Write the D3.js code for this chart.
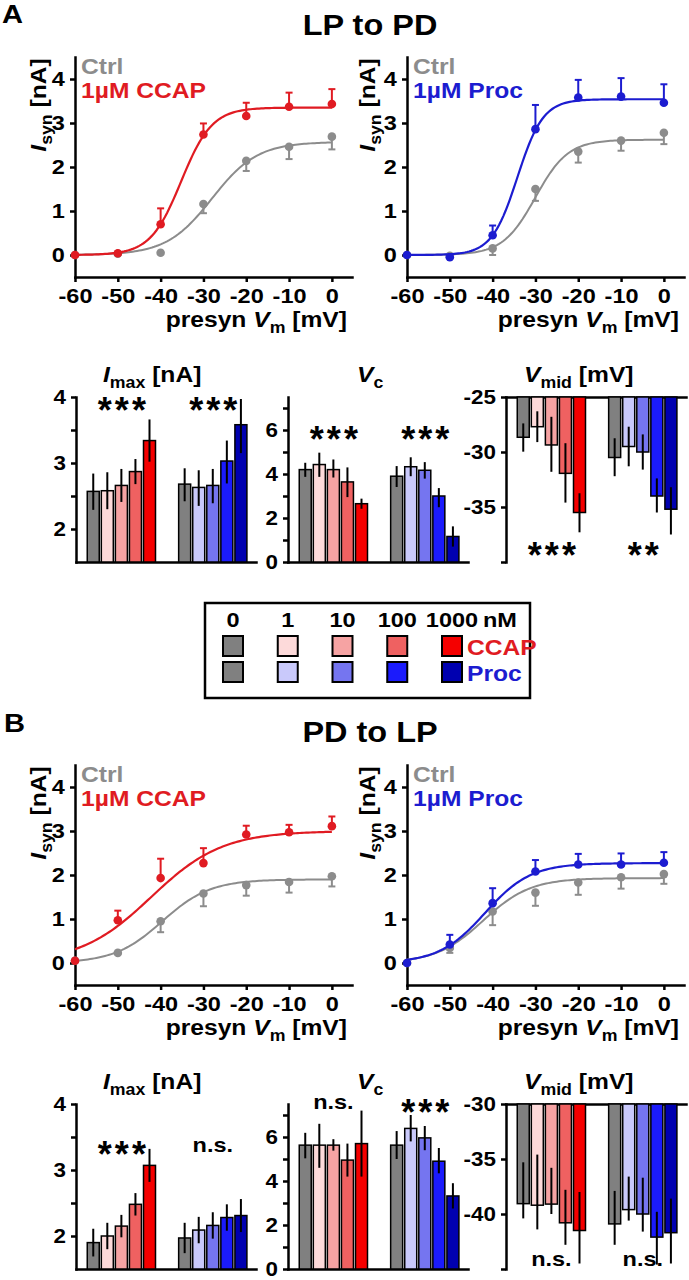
<!DOCTYPE html>
<html>
<head>
<meta charset="utf-8">
<script src="https://cdn.jsdelivr.net/npm/d3@7"></script>
<style>
  body { margin: 0; background: #fff; }
  svg { display: block; }
  text { font-family: "Liberation Sans", Arial, sans-serif; font-weight: bold; }
</style>
</head>
<body>
<svg id="fig" width="689" height="1280"></svg>
<script>
// ---- data ----
const vm = [-60, -50, -40, -30, -20, -10, 0];

// A: LP to PD, Isyn (nA) means and SEM
const lpCtrlC = [0, 0.03, 0.05, 1.16, 2.14, 2.46, 2.69];
const lpCtrlCErr = [0, 0, 0, 0.21, 0.23, 0.28, 0.29];
const lpCcap = [0, 0.04, 0.70, 2.74, 3.16, 3.37, 3.43];
const lpCcapErr = [0, 0, 0.36, 0.25, 0.30, 0.32, 0.34];
const lpCtrlP = [0, -0.02, 0.15, 1.50, 2.35, 2.60, 2.78];
const lpCtrlPErr = [0, 0, 0.15, 0.27, 0.25, 0.23, 0.26];
const lpProc = [0, -0.05, 0.45, 2.86, 3.58, 3.60, 3.46];
const lpProcErr = [0, 0, 0.22, 0.55, 0.40, 0.42, 0.42];

// B: PD to LP
const pdCtrlC = [0.05, 0.23, 0.95, 1.58, 1.77, 1.84, 1.97];
const pdCtrlCErr = [0, 0, 0.25, 0.29, 0.24, 0.24, 0.23];
const pdCcap = [0.05, 0.97, 1.93, 2.27, 2.92, 2.97, 3.11];
const pdCcapErr = [0, 0.22, 0.44, 0.34, 0.20, 0.17, 0.22];
const pdCtrlP = [0, 0.34, 1.17, 1.60, 1.83, 1.95, 2.02];
const pdCtrlPErr = [0, 0.11, 0.31, 0.30, 0.28, 0.26, 0.22];
const pdProc = [0, 0.42, 1.36, 2.08, 2.24, 2.24, 2.28];
const pdProcErr = [0, 0.22, 0.34, 0.26, 0.24, 0.25, 0.24];

// Boltzmann fits: [Imax, Vmid, Vc]
const lpFitCtrlC = [2.57, -28.0, 5.3];
const lpFitCcap = [3.35, -35.2, 3.6];
const lpFitCtrlP = [2.62, -30.0, 3.8];
const lpFitProc = [3.54, -34.2, 3.0];
const pdFitCtrlC = [1.90, -39.6, 5.6];
const pdFitCcap = [3.00, -42.2, 8.3];
const pdFitCtrlP = [1.93, -42.2, 5.5];
const pdFitProc = [2.27, -41.8, 5.35];

// concentration series (0, 1, 10, 100, 1000 nM); each bar [mean, errLow, errHigh]
const conc = ['0', '1', '10', '100', '1000'];
const ccapColors = ['#808080', '#fddada', '#f6a3a3', '#ef6161', '#f50000'];
const procColors = ['#808080', '#c9c9fb', '#7575f0', '#1b1bfc', '#0000b0'];

const lpImaxCcap = [[2.57, 2.29, 2.84], [2.58, 2.30, 2.86], [2.66, 2.41, 2.91], [2.87, 2.68, 3.06], [3.34, 3.02, 3.66]];
const lpImaxProc = [[2.68, 2.42, 2.92], [2.63, 2.35, 2.89], [2.66, 2.39, 2.91], [3.03, 2.69, 3.34], [3.58, 3.15, 3.97]];
const lpVcCcap = [[4.20, 3.87, 4.51], [4.43, 3.87, 4.97], [4.20, 3.84, 4.66], [3.64, 2.95, 4.30], [2.65, 2.42, 2.88]];
const lpVcProc = [[3.90, 3.41, 4.36], [4.33, 3.90, 4.76], [4.17, 3.79, 4.54], [3.00, 2.49, 3.36], [1.16, 0.70, 1.62]];
const lpVmidCcap = [[-28.66, -29.97, -27.4], [-27.7, -29.1, -26.3], [-29.36, -31.8, -26.8], [-31.94, -34.6, -29.2], [-35.5, -37.3, -33.75]];
const lpVmidProc = [[-30.5, -32.2, -28.75], [-29.5, -31.3, -27.7], [-30.0, -31.6, -28.4], [-34.0, -35.5, -32.4], [-35.2, -37.5, -33.2]];

const pdImaxCcap = [[1.90, 1.69, 2.11], [2.00, 1.80, 2.20], [2.15, 1.98, 2.32], [2.48, 2.31, 2.65], [3.07, 2.82, 3.32]];
const pdImaxProc = [[1.97, 1.74, 2.20], [2.09, 1.89, 2.29], [2.16, 1.96, 2.36], [2.28, 2.08, 2.48], [2.31, 2.06, 2.56]];
const pdVcCcap = [[5.63, 5.03, 6.19], [5.63, 4.60, 6.60], [5.63, 5.38, 5.90], [4.95, 4.20, 5.70], [5.70, 4.20, 7.20]];
const pdVcProc = [[5.63, 5.00, 6.27], [6.39, 5.80, 7.00], [5.96, 5.40, 6.50], [4.90, 4.35, 5.50], [3.32, 2.75, 3.90]];
const pdVmidCcap = [[-39.06, -40.4, -35.3], [-39.2, -41.4, -34.6], [-39.1, -40.0, -35.8], [-40.8, -42.8, -37.8], [-41.5, -44.5, -38.0]];
const pdVmidProc = [[-40.9, -42.8, -37.9], [-39.6, -40.6, -36.6], [-40.0, -41.6, -36.7], [-42.1, -44.6, -39.8], [-41.7, -44.5, -38.6]];

const lpSig = { imax: ['***', '***'], vc: ['***', '***'], vmid: ['***', '**'] };
const pdSig = { imax: ['***', 'n.s.'], vc: ['n.s.', '***'], vmid: ['n.s.', 'n.s.'] };

// ---- drawing ----
const RED = '#e01b22', BLUE = '#1c1cd0', GRAY = '#8c8c8c';
const SX = 1.12;   // figure text is a little wider than plain Arial
const svg = d3.select('#fig');
svg.append('rect').attr('width', 689).attr('height', 1280).attr('fill', '#fff');

function boltz(p, v) { return p[0] / (1 + Math.exp((p[1] - v) / p[2])); }

// text placed with a transform so it can be widened
function txt(g, x, y, size, anchor, fill) {
  return g.append('text').attr('transform', `translate(${x},${y}) scale(${SX},1)`)
    .attr('font-size', size).attr('text-anchor', anchor || 'start').attr('fill', fill || '#000');
}

// text with italic / subscript parts
function rich(g, x, y, parts, size, anchor, fill) {
  const t = txt(g, x, y, size, anchor, fill);
  let shift = 0;
  parts.forEach(p => {
    const ts = t.append('tspan').text(p.t);
    const target = p.sub ? size * 0.25 : 0;
    if (target !== shift) { ts.attr('dy', target - shift); shift = target; }
    if (p.sub) ts.attr('font-size', size * 0.72);
    if (p.i) ts.attr('font-style', 'italic');
  });
  return t;
}

function styleAxis(a, fs) {
  a.attr('font-size', fs).attr('font-family', null);
  a.selectAll('path, line').attr('stroke', '#000').attr('stroke-width', 2.5);
  a.select('.domain').attr('stroke-linecap', 'square');
  a.selectAll('text').attr('fill', '#000').attr('transform', `scale(${SX},1)`);
}

function curvePanel(o) {
  const x = d3.scaleLinear().domain([-60, 4.7]).range([o.left, o.left + 277]);
  const y = d3.scaleLinear().domain([-0.5, 4.5]).range([o.top + 220, o.top]);
  const g = svg.append('g');

  const ax = g.append('g').attr('transform', `translate(0,${y(-0.5)})`)
    .call(d3.axisBottom(x).tickValues(vm).tickFormat(d => String(d)).tickSize(5).tickPadding(6).tickSizeOuter(0));
  const ay = g.append('g').attr('transform', `translate(${o.left},0)`)
    .call(d3.axisLeft(y).tickValues([0, 1, 2, 3, 4]).tickFormat(d => String(d)).tickSize(5).tickPadding(4).tickSizeOuter(0));
  styleAxis(ax, 21);
  styleAxis(ay, 21);

  const line = d3.line().x(d => x(d[0])).y(d => y(d[1]));
  const vs = d3.range(-60, 0.01, 0.5);

  const series = [
    { m: o.ctrl, e: o.ctrlErr, fit: o.fitCtrl, c: GRAY, dir: -1, w: 2 },
    { m: o.trt, e: o.trtErr, fit: o.fitTrt, c: o.color, dir: 1, w: 2.2 }
  ];
  series.forEach(s => {
    g.append('path').attr('d', line(vs.map(v => [v, boltz(s.fit, v)])))
      .attr('fill', 'none').attr('stroke', s.c).attr('stroke-width', s.w);
    vm.forEach((v, i) => {
      if (s.e[i] > 0) {
        const y1 = y(s.m[i]), y2 = y(s.m[i] + s.dir * s.e[i]);
        g.append('line').attr('x1', x(v)).attr('x2', x(v)).attr('y1', y1).attr('y2', y2)
          .attr('stroke', s.c).attr('stroke-width', 2);
        g.append('line').attr('x1', x(v) - 3.5).attr('x2', x(v) + 3.5).attr('y1', y2).attr('y2', y2)
          .attr('stroke', s.c).attr('stroke-width', 2);
      }
      g.append('circle').attr('cx', x(v)).attr('cy', y(s.m[i])).attr('r', 4.3).attr('fill', s.c);
    });
  });

  // legend
  txt(g, o.left + 6, o.top + 17, 22, 'start', GRAY).text('Ctrl');
  txt(g, o.left + 6, o.top + 41, 22, 'start', o.color).text(o.label);

  // axis titles
  const yl = g.append('g').attr('transform', `translate(${o.yLabelX},${o.top + 48}) rotate(-90)`);
  rich(yl, 0, 0, [{ t: 'I', i: true }, { t: 'syn', sub: true }, { t: ' [nA]' }], 22, 'middle');
  rich(g, o.left + 272, o.top + 270, [{ t: 'presyn ' }, { t: 'V', i: true }, { t: 'm', sub: true }, { t: ' [mV]' }], 22, 'end');
}

function barPanel(o) {
  const x = d3.scaleLinear().domain([-0.8, 12]).range([o.left, o.left + 180]);
  const y = d3.scaleLinear().domain(o.domain).range([o.bottom, o.top]);
  const g = svg.append('g');
  const base = o.hang ? o.domain[1] : o.domain[0];

  // horizontal axis line
  const ax = g.append('g').attr('transform', `translate(0,${y(base)})`)
    .call(d3.axisBottom(x).tickValues([]).tickSizeOuter(0));
  const ay = g.append('g').attr('transform', `translate(${o.left},0)`)
    .call(d3.axisLeft(y).tickValues(o.ticks).tickFormat(o.fmt).tickSize(5).tickPadding(4).tickSizeOuter(0));
  styleAxis(ax, 20);
  styleAxis(ay, 20);

  [[o.ccap, ccapColors], [o.proc, procColors]].forEach(([vals, cols], gi) => {
    vals.forEach((d, i) => {
      const slot = gi * 6.5 + i;
      const y0 = y(base), y1 = y(d[0]);
      g.append('rect').attr('x', x(slot)).attr('width', 12)
        .attr('y', Math.min(y0, y1)).attr('height', Math.abs(y1 - y0))
        .attr('fill', cols[i]).attr('stroke', '#000').attr('stroke-width', 1.5);
      g.append('line').attr('x1', x(slot) + 6).attr('x2', x(slot) + 6)
        .attr('y1', y(d[1])).attr('y2', y(d[2])).attr('stroke', '#000').attr('stroke-width', 2);
    });
    // significance
    const s = o.sig[gi];
    const cx = x(gi * 6.5 + 2) + 6;
    if (s === 'n.s.') {
      txt(g, cx, o.sigY[gi], 21, 'middle').text(s);
    } else {
      g.append('text').attr('x', cx + 2).attr('y', o.sigY[gi] + 21).attr('font-size', 36)
        .attr('letter-spacing', 3).attr('text-anchor', 'middle').text(s);
    }
  });

  rich(g, o.titleX, o.top - 15, o.title, 22, 'start');
}

// panel letters and titles
txt(svg, 2, 23, 26).text('A');
txt(svg, 4, 732, 26).text('B');
txt(svg, 370, 35, 29, 'middle').text('LP to PD');
txt(svg, 370, 742, 29, 'middle').text('PD to LP');

// A curves
curvePanel({ left: 75, top: 57, yLabelX: 46, ctrl: lpCtrlC, ctrlErr: lpCtrlCErr, trt: lpCcap, trtErr: lpCcapErr,
  fitCtrl: lpFitCtrlC, fitTrt: lpFitCcap, color: RED, label: '1\u00b5M CCAP' });
curvePanel({ left: 407, top: 57, yLabelX: 375, ctrl: lpCtrlP, ctrlErr: lpCtrlPErr, trt: lpProc, trtErr: lpProcErr,
  fitCtrl: lpFitCtrlP, fitTrt: lpFitProc, color: BLUE, label: '1\u00b5M Proc' });
// B curves
curvePanel({ left: 75, top: 765, yLabelX: 46, ctrl: pdCtrlC, ctrlErr: pdCtrlCErr, trt: pdCcap, trtErr: pdCcapErr,
  fitCtrl: pdFitCtrlC, fitTrt: pdFitCcap, color: RED, label: '1\u00b5M CCAP' });
curvePanel({ left: 407, top: 765, yLabelX: 375, ctrl: pdCtrlP, ctrlErr: pdCtrlPErr, trt: pdProc, trtErr: pdProcErr,
  fitCtrl: pdFitCtrlP, fitTrt: pdFitProc, color: BLUE, label: '1\u00b5M Proc' });

const imaxTitle = [{ t: 'I', i: true }, { t: 'max', sub: true }, { t: ' [nA]' }];
const vcTitle = [{ t: 'V', i: true }, { t: 'c', sub: true }];
const vmidTitle = [{ t: 'V', i: true }, { t: 'mid', sub: true }, { t: ' [mV]' }];
const intFmt = d => Number.isInteger(d) ? String(d) : '';
const evenFmt = d => d % 2 === 0 ? String(d) : '';

[
  { top: 397, bottom: 562, imax: [lpImaxCcap, lpImaxProc], vc: [lpVcCcap, lpVcProc], vmid: [lpVmidCcap, lpVmidProc],
    vmidDomain: [-40, -25], sig: lpSig, sigY: { imax: [402, 402], vc: [431, 431], vmid: [547, 547] } },
  { top: 1104, bottom: 1269, imax: [pdImaxCcap, pdImaxProc], vc: [pdVcCcap, pdVcProc], vmid: [pdVmidCcap, pdVmidProc],
    vmidDomain: [-45, -30], sig: pdSig, sigY: { imax: [1146, 1152], vc: [1109, 1104], vmid: [1266, 1266] } }
].forEach(r => {
  barPanel({ left: 76, top: r.top, bottom: r.bottom, domain: [1.5, 4], ticks: [2, 2.5, 3, 3.5, 4], fmt: intFmt,
    ccap: r.imax[0], proc: r.imax[1], sig: r.sig.imax, sigY: r.sigY.imax, title: imaxTitle, titleX: 103 });
  barPanel({ left: 288, top: r.top, bottom: r.bottom, domain: [0, 7.5], ticks: d3.range(0, 8), fmt: evenFmt,
    ccap: r.vc[0], proc: r.vc[1], sig: r.sig.vc, sigY: r.sigY.vc, title: vcTitle, titleX: 357 });
  const vt = [r.vmidDomain[1], r.vmidDomain[1] - 5, r.vmidDomain[1] - 10, r.vmidDomain[0]];
  barPanel({ left: 506, top: r.top, bottom: r.bottom, domain: r.vmidDomain, hang: true, ticks: vt,
    fmt: d => d === r.vmidDomain[0] ? '' : String(d),
    ccap: r.vmid[0], proc: r.vmid[1], sig: r.sig.vmid, sigY: r.sigY.vmid, title: vmidTitle, titleX: 524 });
});

// concentration legend
const lg = svg.append('g');
lg.append('rect').attr('x', 205).attr('y', 603).attr('width', 325).attr('height', 95)
  .attr('fill', 'none').attr('stroke', '#000').attr('stroke-width', 2.5);
const lx = d3.scalePoint().domain(conc).range([233, 452]);
conc.forEach((c, i) => {
  txt(lg, lx(c), 627, 21, 'middle').text(c);
  [[ccapColors, 636], [procColors, 662]].forEach(([cols, yy]) => {
    lg.append('rect').attr('x', lx(c) - 10).attr('y', yy).attr('width', 20).attr('height', 20)
      .attr('fill', cols[i]).attr('stroke', '#000').attr('stroke-width', 2);
  });
});
txt(lg, lx('1000') + 31, 627, 21).text('nM');
txt(lg, 467, 655, 22, 'start', RED).text('CCAP');
txt(lg, 467, 681, 22, 'start', BLUE).text('Proc');
</script>
</body>
</html>
